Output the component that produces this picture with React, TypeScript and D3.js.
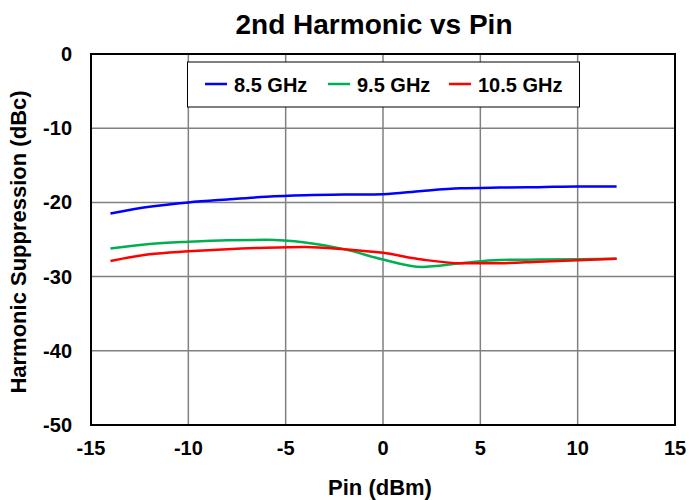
import * as d3 from "d3";
import React, { useRef, useEffect } from "react";

const width = 689;
const height = 500;
const margin = { top: 54, right: 14, bottom: 75, left: 91 };

// Pin (dBm)
const pin = [-14, -12, -10, -8, -6, -4, -2, 0, 2, 4, 6, 8, 10, 12];
// harmonic suppression (dBc) per frequency
const ghz85 = [-21.5, -20.6, -20.0, -19.6, -19.25, -19.05, -18.95, -18.9, -18.45, -18.1, -18.0, -17.95, -17.85, -17.85];
const ghz95 = [-26.2, -25.6, -25.3, -25.1, -25.05, -25.4, -26.3, -27.7, -28.7, -28.2, -27.75, -27.7, -27.65, -27.6];
const ghz105 = [-27.9, -27.0, -26.6, -26.3, -26.1, -26.0, -26.3, -26.8, -27.7, -28.2, -28.2, -28.0, -27.8, -27.6];

const seriesNames = ["8.5 GHz", "9.5 GHz", "10.5 GHz"];
const seriesColors = ["#0000ff", "#00b050", "#ff0000"];
const xTicks = [-15, -10, -5, 0, 5, 10, 15];
const yTicks = [0, -10, -20, -30, -40, -50];

export default function App() {
  const ref = useRef(null);

  useEffect(() => {
    const svg = d3.select(ref.current);
    svg.selectAll("*").remove();
    const font = "Liberation Sans, Arial, sans-serif";

    const x = d3.scaleLinear().domain([-15, 15]).range([margin.left, width - margin.right]);
    const y = d3.scaleLinear().domain([0, -50]).range([margin.top, height - margin.bottom]);

    // grid
    svg
      .append("g")
      .selectAll("line")
      .data(xTicks.slice(1, -1))
      .join("line")
      .attr("x1", (d) => x(d))
      .attr("x2", (d) => x(d))
      .attr("y1", y(0))
      .attr("y2", y(-50))
      .attr("stroke", "#808080")
      .attr("stroke-width", 1.5);
    svg
      .append("g")
      .selectAll("line")
      .data(yTicks.slice(1, -1))
      .join("line")
      .attr("x1", x(-15))
      .attr("x2", x(15))
      .attr("y1", (d) => y(d))
      .attr("y2", (d) => y(d))
      .attr("stroke", "#808080")
      .attr("stroke-width", 1.5);

    // frame
    svg
      .append("rect")
      .attr("x", x(-15))
      .attr("y", y(0))
      .attr("width", x(15) - x(-15))
      .attr("height", y(-50) - y(0))
      .attr("fill", "none")
      .attr("stroke", "black")
      .attr("stroke-width", 2);

    // tick labels
    svg
      .append("g")
      .selectAll("text")
      .data(xTicks)
      .join("text")
      .attr("x", (d) => x(d))
      .attr("y", 455)
      .attr("text-anchor", "middle")
      .style("font-family", font)
      .style("font-weight", "bold")
      .style("font-size", "20px")
      .text((d) => d);
    svg
      .append("g")
      .selectAll("text")
      .data(yTicks)
      .join("text")
      .attr("x", 72)
      .attr("y", (d) => y(d))
      .attr("dy", "0.35em")
      .attr("text-anchor", "end")
      .style("font-family", font)
      .style("font-weight", "bold")
      .style("font-size", "20px")
      .text((d) => d);

    // lines
    const allSeries = [ghz85, ghz95, ghz105];
    const line = d3
      .line<number>()
      .x((d, i) => x(pin[i]))
      .y((d) => y(d))
      .curve(d3.curveMonotoneX);
    svg
      .append("g")
      .selectAll("path")
      .data(allSeries)
      .join("path")
      .attr("d", (d) => line(d))
      .attr("fill", "none")
      .attr("stroke", (d, i) => seriesColors[i])
      .attr("stroke-width", 2.5);

    // legend
    const legend = svg.append("g");
    legend
      .append("rect")
      .attr("x", 187.5)
      .attr("y", 62)
      .attr("width", 392)
      .attr("height", 45)
      .attr("fill", "white")
      .attr("stroke", "black")
      .attr("stroke-width", 1);
    const legendX = [205, 328, 449];
    seriesNames.forEach((name, i) => {
      legend
        .append("line")
        .attr("x1", legendX[i])
        .attr("x2", legendX[i] + 22)
        .attr("y1", 84)
        .attr("y2", 84)
        .attr("stroke", seriesColors[i])
        .attr("stroke-width", 2.5);
      legend
        .append("text")
        .attr("x", legendX[i] + 29)
        .attr("y", 91.5)
        .style("font-family", font)
        .style("font-weight", "bold")
        .style("font-size", "20px")
        .text(name);
    });

    // titles
    svg
      .append("text")
      .attr("x", 374)
      .attr("y", 34)
      .attr("text-anchor", "middle")
      .style("font-family", font)
      .style("font-weight", "bold")
      .style("font-size", "28px")
      .text("2nd Harmonic vs Pin");
    svg
      .append("text")
      .attr("x", 380)
      .attr("y", 495)
      .attr("text-anchor", "middle")
      .style("font-family", font)
      .style("font-weight", "bold")
      .style("font-size", "22px")
      .text("Pin (dBm)");
    svg
      .append("text")
      .attr("transform", `translate(26, 242) rotate(-90)`)
      .attr("text-anchor", "middle")
      .style("font-family", font)
      .style("font-weight", "bold")
      .style("font-size", "22px")
      .text("Harmonic Suppression (dBc)");
  }, []);

  return (
    <svg
      ref={ref}
      width={width}
      height={height}
      style={{ position: "absolute", left: 0, top: 0, background: "white" }}
    ></svg>
  );
}
